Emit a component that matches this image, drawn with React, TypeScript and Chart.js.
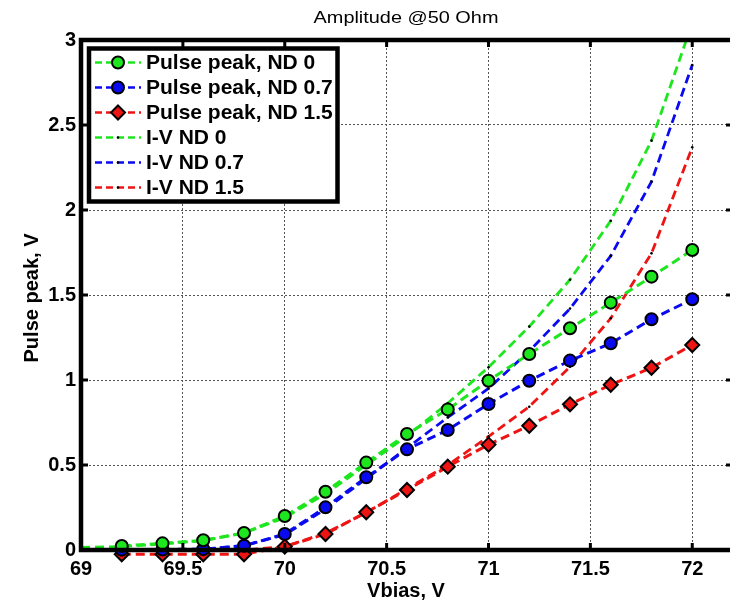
import React, { useEffect, useRef } from 'react';
import { Chart, registerables } from 'chart.js';

Chart.register(...registerables);

const TITLE = 'Amplitude @50 Ohm';
const X_TITLE = 'Vbias, V';
const Y_TITLE = 'Pulse peak, V';

const VBIAS_PULSE = [69.2, 69.4, 69.6, 69.8, 70.0, 70.2, 70.4, 70.6, 70.8, 71.0, 71.2, 71.4, 71.6, 71.8, 72.0];
const PULSE_ND0 = [0.024, 0.039, 0.057, 0.1, 0.2, 0.343, 0.514, 0.682, 0.827, 0.996, 1.153, 1.304, 1.455, 1.608, 1.765];
const PULSE_ND07 = [0.002, 0.003, 0.005, 0.025, 0.094, 0.251, 0.428, 0.592, 0.706, 0.859, 0.996, 1.114, 1.216, 1.357, 1.475];
const PULSE_ND15 = [-0.025, -0.025, -0.025, -0.025, 0.02, 0.094, 0.222, 0.353, 0.49, 0.62, 0.731, 0.857, 0.972, 1.072, 1.206];

const VBIAS_IV = [69.0, 69.2, 69.4, 69.6, 69.8, 70.0, 70.2, 70.4, 70.6, 70.8, 71.0, 71.2, 71.4, 71.6, 71.8, 72.0];
const IV_ND0 = [0.015, 0.02, 0.035, 0.055, 0.1, 0.19, 0.33, 0.5, 0.67, 0.863, 1.075, 1.314, 1.59, 1.937, 2.408, 3.1];
const IV_ND07 = [0.0, 0.0, 0.0, 0.005, 0.025, 0.09, 0.24, 0.42, 0.6, 0.78, 0.95, 1.17, 1.42, 1.73, 2.167, 2.853];
const IV_ND15 = [0.0, 0.0, 0.0, 0.0, 0.0, 0.02, 0.1, 0.22, 0.36, 0.5, 0.667, 0.843, 1.078, 1.363, 1.745, 2.369];

const SERIES_LABELS = [
  'Pulse peak, ND 0',
  'Pulse peak, ND 0.7',
  'Pulse peak, ND 1.5',
  'I-V ND 0',
  'I-V ND 0.7',
  'I-V ND 1.5',
];

const X_TICKS = [69, 69.5, 70, 70.5, 71, 71.5, 72];
const Y_TICKS = [0, 0.5, 1, 1.5, 2, 2.5, 3];

const GREEN = '#1ee61e';
const BLUE = '#0a0af0';
const RED = '#ee1414';
const FONT = '"Liberation Sans", Arial, sans-serif';

const pts = (xs: number[], ys: number[]) => xs.map((x, i) => ({ x, y: ys[i] }));

function drawMarker(ctx: CanvasRenderingContext2D, style: string, x: number, y: number, r: number, fill: string, bw: number) {
  ctx.beginPath();
  if (style === 'rectRot') {
    ctx.moveTo(x, y - r);
    ctx.lineTo(x + r, y);
    ctx.lineTo(x, y + r);
    ctx.lineTo(x - r, y);
    ctx.closePath();
  } else {
    ctx.arc(x, y, r, 0, Math.PI * 2);
  }
  ctx.fillStyle = fill;
  ctx.fill();
  if (bw > 0) {
    ctx.lineWidth = bw;
    ctx.strokeStyle = '#000';
    ctx.stroke();
  }
}

const decorPlugin = {
  id: 'decor',
  afterDraw(chart: any) {
    const { ctx, chartArea: a, scales } = chart;
    const xs = scales.x;
    const ys = scales.y;
    ctx.save();
    // inward tick marks
    ctx.fillStyle = '#000';
    X_TICKS.forEach((v) => {
      const px = xs.getPixelForValue(v);
      ctx.fillRect(px - 1.5, a.bottom - 7, 3, 7);
      ctx.fillRect(px - 1.5, a.top, 3, 7);
    });
    Y_TICKS.forEach((v) => {
      const py = ys.getPixelForValue(v);
      ctx.fillRect(a.left, py - 1.5, 7, 3);
      ctx.fillRect(a.right - 7, py - 1.5, 7, 3);
    });
    // axes box
    ctx.strokeStyle = '#000';
    ctx.lineWidth = 4.5;
    ctx.setLineDash([]);
    ctx.beginPath();
    ctx.moveTo(a.right + 3, a.top);
    ctx.lineTo(a.left, a.top);
    ctx.lineTo(a.left, a.bottom);
    ctx.lineTo(a.right + 3, a.bottom);
    ctx.stroke();

    // legend
    const lx = 89, ly = 48.5, lw = 248.5, lh = 153;
    ctx.fillStyle = '#fff';
    ctx.fillRect(lx, ly, lw, lh);
    ctx.lineWidth = 4.5;
    ctx.strokeStyle = '#000';
    ctx.strokeRect(lx, ly, lw, lh);
    chart.data.datasets.forEach((ds: any, i: number) => {
      const y = 62.5 + i * 25;
      ctx.save();
      ctx.setLineDash([7, 4]);
      ctx.strokeStyle = ds.borderColor;
      ctx.lineWidth = 2.5;
      ctx.beginPath();
      ctx.moveTo(95, y);
      ctx.lineTo(141, y);
      ctx.stroke();
      ctx.restore();
      drawMarker(ctx, ds.pointStyle, 118, y, ds.pointRadius, ds.pointBackgroundColor, ds.pointBorderWidth);
      ctx.fillStyle = '#000';
      ctx.font = `bold 21px ${FONT}`;
      ctx.textAlign = 'left';
      ctx.textBaseline = 'middle';
      ctx.fillText(ds.label, 146, y + 1);
    });

    // titles
    ctx.fillStyle = '#000';
    ctx.textAlign = 'center';
    ctx.textBaseline = 'alphabetic';
    ctx.save();
    ctx.translate(406, 23);
    ctx.scale(1.17, 1);
    ctx.font = `17px ${FONT}`;
    ctx.fillText(TITLE, 0, 0);
    ctx.restore();

    ctx.font = `bold 20px ${FONT}`;
    ctx.fillText(X_TITLE, 406, 597);

    ctx.save();
    ctx.translate(38, 298);
    ctx.rotate(-Math.PI / 2);
    ctx.fillText(Y_TITLE, 0, 0);
    ctx.restore();

    ctx.restore();
  },
};

export default function App() {
  const ref = useRef<HTMLCanvasElement | null>(null);

  useEffect(() => {
    if (!ref.current) return;
    const pulse = (label: string, ys: number[], color: string, style: string, r: number) => ({
      label,
      data: pts(VBIAS_PULSE, ys),
      borderColor: color,
      backgroundColor: color,
      borderWidth: 3,
      borderDash: [9, 5],
      pointStyle: style,
      pointRadius: r,
      pointHoverRadius: r,
      pointBackgroundColor: color,
      pointBorderColor: '#000',
      pointBorderWidth: 2,
      clip: 14,
      tension: 0,
      fill: false,
    });
    const iv = (label: string, ys: number[], color: string) => ({
      label,
      data: pts(VBIAS_IV, ys),
      borderColor: color,
      backgroundColor: color,
      borderWidth: 2.8,
      borderDash: [9, 5],
      pointStyle: 'circle',
      pointRadius: 1.3,
      pointHoverRadius: 1.3,
      pointBackgroundColor: '#000',
      pointBorderColor: '#000',
      pointBorderWidth: 0,
      tension: 0,
      fill: false,
    });

    const chart = new Chart(ref.current, {
      type: 'line',
      data: {
        datasets: [
          pulse(SERIES_LABELS[0], PULSE_ND0, GREEN, 'circle', 6),
          pulse(SERIES_LABELS[1], PULSE_ND07, BLUE, 'circle', 6),
          pulse(SERIES_LABELS[2], PULSE_ND15, RED, 'rectRot', 7),
          iv(SERIES_LABELS[3], IV_ND0, GREEN),
          iv(SERIES_LABELS[4], IV_ND07, BLUE),
          iv(SERIES_LABELS[5], IV_ND15, RED),
        ] as any,
      },
      options: {
        animation: false,
        responsive: false,
        devicePixelRatio: 1,
        layout: { padding: { top: 40, right: 11, left: 0, bottom: 0 } },
        plugins: {
          legend: { display: false },
          title: { display: false },
          tooltip: { enabled: false },
        },
        scales: {
          x: {
            type: 'linear',
            min: 69,
            max: 72.2,
            afterBuildTicks: (s: any) => {
              s.ticks = X_TICKS.map((v) => ({ value: v }));
            },
            afterFit: (s: any) => {
              s.height = 51;
            },
            ticks: {
              autoSkip: false,
              maxRotation: 0,
              padding: 7,
              color: '#000',
              font: { family: FONT, size: 20, weight: 'bold' },
              callback: (v: any) => String(v),
            },
            grid: { color: '#555', lineWidth: 1, drawTicks: false },
            border: { display: false, dash: [2, 2] },
          },
          y: {
            type: 'linear',
            min: 0,
            max: 3,
            afterBuildTicks: (s: any) => {
              s.ticks = Y_TICKS.map((v) => ({ value: v }));
            },
            afterFit: (s: any) => {
              s.width = 81;
            },
            ticks: {
              autoSkip: false,
              padding: 5,
              color: '#000',
              font: { family: FONT, size: 20, weight: 'bold' },
              callback: (v: any) => String(v),
            },
            grid: { color: '#555', lineWidth: 1, drawTicks: false },
            border: { display: false, dash: [2, 2] },
          },
        },
      } as any,
      plugins: [decorPlugin],
    });
    return () => chart.destroy();
  }, []);

  return (
    <div style={{ position: 'fixed', left: 0, top: 0, width: 730, height: 601, overflow: 'hidden', background: '#fff' }}>
      <canvas ref={ref} width={744} height={601} style={{ display: 'block' }} />
    </div>
  );
}
